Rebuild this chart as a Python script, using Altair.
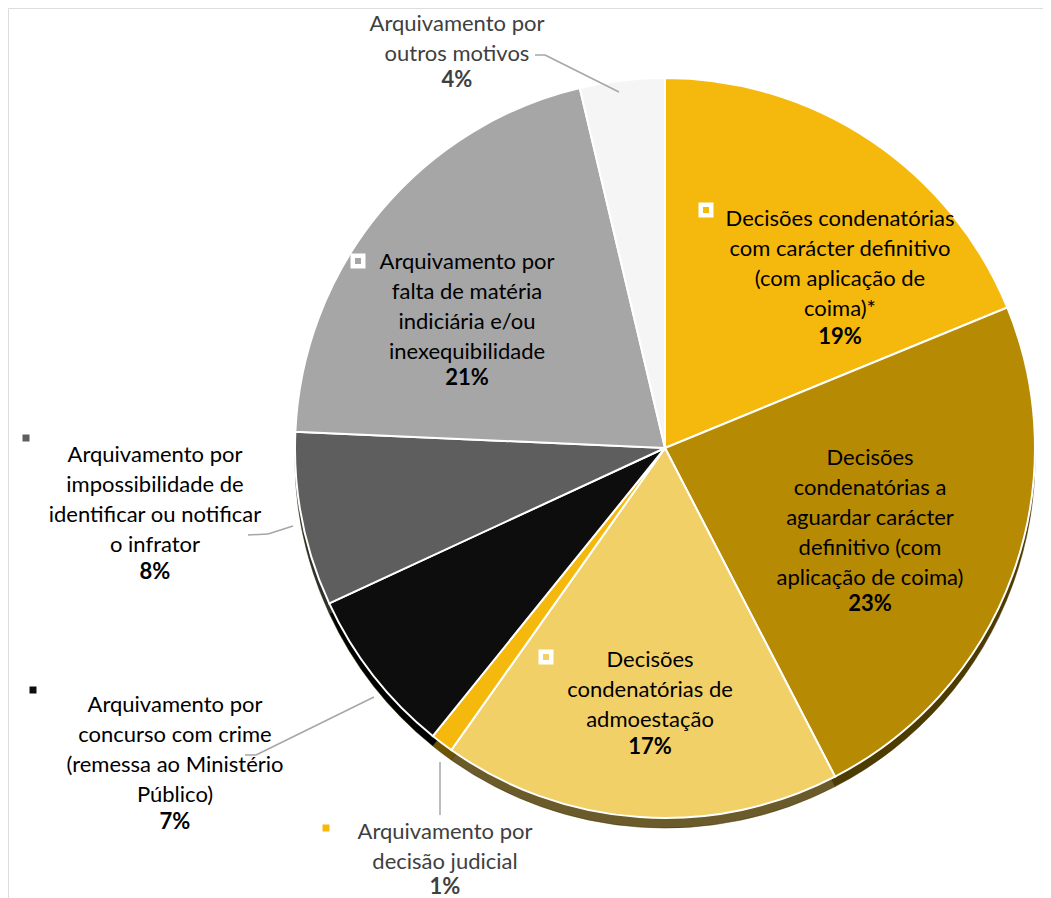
import altair as alt
import pandas as pd

# ---------------- data ----------------
categories = [
    "Decisões condenatórias com carácter definitivo (com aplicação de coima)*",
    "Decisões condenatórias a aguardar carácter definitivo (com aplicação de coima)",
    "Decisões condenatórias de admoestação",
    "Arquivamento por decisão judicial",
    "Arquivamento por concurso com crime (remessa ao Ministério Público)",
    "Arquivamento por impossibilidade de identificar ou notificar o infrator",
    "Arquivamento por falta de matéria indiciária e/ou inexequibilidade",
    "Arquivamento por outros motivos",
]
values = [18.8, 23.6, 17.4, 1.0, 7.3, 7.6, 20.6, 3.7]
pct_labels = ["19%", "23%", "17%", "1%", "7%", "8%", "21%", "4%"]
label_lines = [
    "Decisões condenatórias\ncom carácter definitivo\n(com aplicação de\ncoima)*",
    "Decisões\ncondenatórias a\naguardar carácter\ndefinitivo (com\naplicação de coima)",
    "Decisões\ncondenatórias de\nadmoestação",
    "Arquivamento por\ndecisão judicial",
    "Arquivamento por\nconcurso com crime\n(remessa ao Ministério\nPúblico)",
    "Arquivamento por\nimpossibilidade de\nidentificar ou notificar\no infrator",
    "Arquivamento por\nfalta de matéria\nindiciária e/ou\ninexequibilidade",
    "Arquivamento por\noutros motivos",
]

# ---------------- styles / layout ----------------
colors = ["#F4B90C", "#B68A02", "#F2D068", "#F4B90C", "#0D0D0D", "#5E5E5E", "#A6A6A6", "#F5F5F5"]
shadow_colors = ["#6E5400", "#4E3B00", "#6B5A2A", "#6E5400", "#000000", "#2E2E2E", "#555555", "#9A9A9A"]
text_colors = ["#000000", "#000000", "#000000", "#404040", "#000000", "#000000", "#000000", "#404040"]
OFF = 8
CX, CY, R = 665 - OFF, 448 - OFF, 370
DEPTH = 10
FONT = "Lato"
FS = 22
LH = 29

# label anchors (page px): centre x, centre of first line y, centre of pct y
label_x = [840, 870, 650, 445, 175, 155, 467, 457]
label_y1 = [219, 458, 660, 832, 705, 455, 262, 24]
pct_y = [337, 604, 747, 887, 822, 572, 378, 80]

# markers
marker_idx = [0, 2, 6, 5, 4, 3]
marker_x = [706, 546, 358, 26, 33, 326]
marker_y = [210, 657, 261, 438, 690, 828]
marker_big = [True, True, True, False, False, False]

# leader segments (page px)
seg_x = [535, 545, 248, 268, 245, 256, 440]
seg_y = [55, 55, 535, 534, 755, 755, 762]
seg_x2 = [545, 619, 268, 293, 256, 374, 440]
seg_y2 = [55, 92, 534, 526, 755, 697, 815]

W, H = 1035, 890

pie_df = pd.DataFrame({
    "cat": categories,
    "value": values,
    "order": list(range(len(values))),
    "col": colors,
    "scol": shadow_colors,
})

base_pie = alt.Chart(pie_df).encode(
    theta=alt.Theta("value:Q", stack=True),
    order=alt.Order("order:Q"),
)

shadow = base_pie.mark_arc(outerRadius=R, stroke="#3a2e00", strokeWidth=0.5).encode(
    fill=alt.Fill("scol:N", scale=None),
    x=alt.value(CX),
    y=alt.value(CY + DEPTH),
)

pie = base_pie.mark_arc(outerRadius=R, stroke="white", strokeWidth=2).encode(
    fill=alt.Fill("col:N", scale=None),
    x=alt.value(CX),
    y=alt.value(CY),
)

lab_df = pd.DataFrame({
    "text": label_lines,
    "pct": pct_labels,
    "px": [v - OFF for v in label_x],
    "py": [v - OFF + 7 for v in label_y1],
    "ppy": [v - OFF + 7 for v in pct_y],
    "tc": text_colors,
})

names = alt.Chart(lab_df).mark_text(
    align="center", baseline="alphabetic", lineBreak="\n", lineHeight=30,
    font=FONT, fontSize=FS,
).encode(
    x=alt.X("px:Q", scale=None),
    y=alt.Y("py:Q", scale=None),
    text="text:N",
    color=alt.Color("tc:N", scale=None),
)

pcts = alt.Chart(lab_df).mark_text(
    align="center", baseline="alphabetic", font=FONT, fontSize=FS, fontWeight="bold",
).encode(
    x=alt.X("px:Q", scale=None),
    y=alt.Y("ppy:Q", scale=None),
    text="pct:N",
    color=alt.Color("tc:N", scale=None),
)

seg_df = pd.DataFrame({
    "x": [v - OFF for v in seg_x],
    "y": [v - OFF for v in seg_y],
    "x2": [v - OFF for v in seg_x2],
    "y2": [v - OFF for v in seg_y2],
})
leaders = alt.Chart(seg_df).mark_rule(color="#A6A6A6", strokeWidth=1.5).encode(
    x=alt.X("x:Q", scale=None), y=alt.Y("y:Q", scale=None),
    x2="x2:Q", y2="y2:Q",
)

mk_df = pd.DataFrame({
    "x": [v - OFF for v in marker_x],
    "y": [v - OFF for v in marker_y],
    "fill": [colors[i] for i in marker_idx],
    "big": marker_big,
})
big_markers = alt.Chart(mk_df[mk_df["big"]]).mark_square(
    size=110, filled=True, stroke="white", strokeWidth=4.5, opacity=1,
).encode(
    x=alt.X("x:Q", scale=None), y=alt.Y("y:Q", scale=None),
    fill=alt.Fill("fill:N", scale=None),
)
small_markers = alt.Chart(mk_df[~mk_df["big"]]).mark_square(
    size=49, filled=True, opacity=1,
).encode(
    x=alt.X("x:Q", scale=None), y=alt.Y("y:Q", scale=None),
    fill=alt.Fill("fill:N", scale=None),
)

chart = alt.layer(shadow, pie, leaders, big_markers, small_markers, names, pcts).properties(
    width=W, height=H,
    autosize=alt.AutoSizeParams(type="none"),
    padding=0,
).configure_view(stroke=None, strokeWidth=0).configure(background="white")

chart.save("out.html", embed_options={"renderer": "svg", "actions": False})
